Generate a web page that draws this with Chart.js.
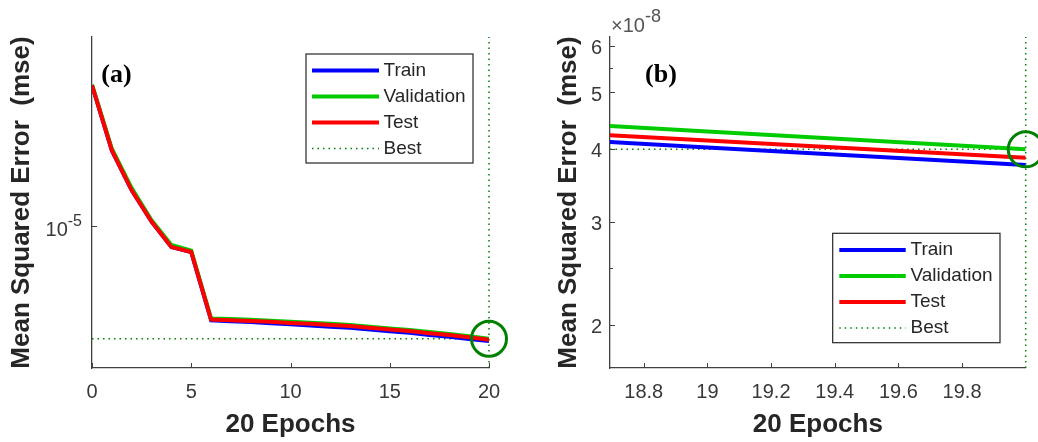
<!DOCTYPE html>
<html>
<head>
<meta charset="utf-8">
<script src="https://cdn.jsdelivr.net/npm/chart.js@4.4.1/dist/chart.umd.min.js"></script>
<style>
  html, body { margin: 0; padding: 0; background: #fff; }
  #wrap { position: relative; width: 1038px; height: 442px; overflow: hidden; }
  .panel { position: absolute; top: 0; height: 442px; }
</style>
</head>
<body>
<div id="wrap">
  <div class="panel" style="left:0;width:520px"><canvas id="chartA" width="520" height="442"></canvas></div>
  <div class="panel" style="left:520px;width:518px"><canvas id="chartB" width="518" height="442"></canvas></div>
</div>
<script>
// panel (a): whole training run, 20 epochs
const epochsA = [0, 1, 2, 3, 4, 5, 6, 7, 8, 9, 10, 11, 12, 13, 14, 15, 16, 17, 18, 19, 20];
const trainA = [2.66e-5, 1.69e-5, 1.28e-5, 1.03e-5, 8.63e-6, 8.33e-6, 5.18e-6, 5.15e-6, 5.12e-6, 5.08e-6, 5.04e-6,
                5.00e-6, 4.96e-6, 4.92e-6, 4.86e-6, 4.80e-6, 4.75e-6, 4.68e-6, 4.62e-6, 4.55e-6, 4.49e-6];
const valA = [2.67e-5, 1.71e-5, 1.30e-5, 1.04e-5, 8.75e-6, 8.42e-6, 5.25e-6, 5.23e-6, 5.20e-6, 5.17e-6, 5.13e-6,
              5.10e-6, 5.06e-6, 5.02e-6, 4.96e-6, 4.90e-6, 4.85e-6, 4.78e-6, 4.71e-6, 4.64e-6, 4.56e-6];
const testA = [2.66e-5, 1.69e-5, 1.28e-5, 1.03e-5, 8.64e-6, 8.34e-6, 5.21e-6, 5.19e-6, 5.16e-6, 5.13e-6, 5.09e-6,
               5.06e-6, 5.02e-6, 4.98e-6, 4.92e-6, 4.86e-6, 4.81e-6, 4.74e-6, 4.68e-6, 4.61e-6, 4.53e-6];
const bestEpochA = 20;
const bestValA = 4.56e-6;
const xRangeA = [0, 20];
const yRangeA = [3.72e-6, 3.72e-5];
const xTicksA = [0, 5, 10, 15, 20];
const xTickLabelsA = ['0', '5', '10', '15', '20'];
const yTicksA = [1e-5];
const yTickBaseA = '10';
const yTickExpA = '-5';

// panel (b): zoom on the last epochs
const epochsB = [18, 19, 20];
const trainB = [4.31e-8, 4.02e-8, 3.75e-8];
const valB = [4.59e-8, 4.28e-8, 3.99e-8];
const testB = [4.42e-8, 4.13e-8, 3.86e-8];
const bestEpochB = 20;
const bestValB = 3.99e-8;
const xRangeB = [18.694, 20];
const yRangeB = [1.687e-8, 6.21e-8];
const xTicksB = [18.8, 19, 19.2, 19.4, 19.6, 19.8];
const xTickLabelsB = ['18.8', '19', '19.2', '19.4', '19.6', '19.8'];
const yTicksB = [2e-8, 3e-8, 4e-8, 5e-8, 6e-8];
const yTickLabelsB = ['2', '3', '4', '5', '6'];
const yMinorB = [2.5e-8, 5.5e-8];
const yMultBase = '\u00d710';
const yMultExp = '-8';

const SANS = '"Liberation Sans", Arial, Helvetica, sans-serif';
const SERIF = '"Liberation Serif", "Times New Roman", serif';
const AXIS = '#404040';
const TICK_TEXT = '#383838';
const TITLE_TEXT = '#262626';
const BLUE = '#0000ff';
const GREEN = '#00cc00';
const RED = '#ff0000';
const BEST = '#008000';

// inward tick marks, power-of-ten labels, panel letters and the boxed legend
const decorPlugin = {
  id: 'decor',
  afterDraw(chart, _args, o) {
    const { ctx, chartArea: a } = chart;
    const xs = chart.scales.x, ys = chart.scales.y;
    ctx.save();

    ctx.strokeStyle = AXIS;
    ctx.lineWidth = 1;
    ctx.beginPath();
    o.xTicks.forEach(v => {
      const px = Math.round(xs.getPixelForValue(v)) + 0.5;
      ctx.moveTo(px, a.bottom);
      ctx.lineTo(px, a.bottom - 5);
    });
    o.yTicks.forEach(v => {
      const py = Math.round(ys.getPixelForValue(v)) + 0.5;
      ctx.moveTo(a.left, py);
      ctx.lineTo(a.left + 5, py);
    });
    (o.yMinor || []).forEach(v => {
      const py = Math.round(ys.getPixelForValue(v)) + 0.5;
      ctx.moveTo(a.left, py);
      ctx.lineTo(a.left + 3, py);
    });
    ctx.stroke();

    ctx.fillStyle = TICK_TEXT;
    ctx.textBaseline = 'middle';

    // 10^-5 style label on the log axis
    if (o.power) {
      const py = ys.getPixelForValue(o.power.value);
      const right = a.left - 10;
      ctx.textAlign = 'right';
      ctx.font = '16px ' + SANS;
      const w = ctx.measureText(o.power.exp).width;
      ctx.fillText(o.power.exp, right, py - 4);
      ctx.font = '20px ' + SANS;
      ctx.fillText(o.power.base, right - w, py + 4.5);
    }

    // x10^-8 multiplier above the axis
    if (o.mult) {
      ctx.textAlign = 'left';
      ctx.font = '20px ' + SANS;
      ctx.fillStyle = '#555';
      ctx.fillText(o.mult.base, a.left + 1, 26);
      const w = ctx.measureText(o.mult.base).width;
      ctx.font = '18px ' + SANS;
      ctx.fillText(o.mult.exp, a.left + 1 + w, 17);
    }

    // (a) / (b)
    ctx.fillStyle = '#000';
    ctx.textAlign = 'center';
    ctx.font = 'bold 26px ' + SERIF;
    ctx.fillText(o.panel.text, o.panel.x, o.panel.y);

    // legend
    const L = o.legend;
    ctx.fillStyle = '#fff';
    ctx.fillRect(L.x, L.y, L.w, L.h);
    ctx.strokeStyle = '#262626';
    ctx.lineWidth = 1.2;
    ctx.strokeRect(L.x, L.y, L.w, L.h);
    chart.data.datasets.filter(d => d.label).forEach((d, i) => {
      const ry = L.row0 + i * L.rowGap;
      ctx.strokeStyle = d.borderColor;
      ctx.lineWidth = d.borderDash ? 1.5 : 4;
      ctx.setLineDash(d.borderDash || []);
      ctx.beginPath();
      ctx.moveTo(L.lineX0, ry);
      ctx.lineTo(L.lineX1, ry);
      ctx.stroke();
      ctx.setLineDash([]);
      ctx.fillStyle = TITLE_TEXT;
      ctx.textAlign = 'left';
      ctx.font = '19px ' + SANS;
      ctx.fillText(d.label, L.textX, ry);
    });

    ctx.restore();
  }
};

function makeConfig(p) {
  const pts = (xs, ys) => xs.map((x, i) => ({ x, y: ys[i] }));
  const series = (label, color, data, order) => ({
    label, data, order,
    borderColor: color, backgroundColor: color,
    borderWidth: 4, pointRadius: 0, tension: 0, clip: 0
  });
  const dotted = { borderColor: BEST, borderWidth: 1.5, borderDash: [1.5, 4], pointRadius: 0, order: 5, clip: false };

  return {
    type: 'line',
    data: {
      datasets: [
        series('Train', BLUE, pts(p.epochs, p.train), 3),
        series('Validation', GREEN, pts(p.epochs, p.val), 2),
        series('Test', RED, pts(p.epochs, p.test), 1),
        Object.assign({ label: 'Best', data: [{ x: p.xRange[0], y: p.best }, { x: p.bestEpoch, y: p.best }] }, dotted),
        Object.assign({ label: '', data: [{ x: p.bestEpoch, y: p.yRange[0] }, { x: p.bestEpoch, y: p.yRange[1] }] }, dotted),
        {
          label: '', data: [{ x: p.bestEpoch, y: p.best }], showLine: false, order: 0, clip: false,
          pointRadius: 17.5, pointBorderWidth: 3, pointBorderColor: BEST, pointBackgroundColor: 'rgba(0,0,0,0)'
        }
      ]
    },
    options: {
      responsive: false,
      animation: false,
      devicePixelRatio: 1,
      events: [],
      layout: { autoPadding: false, padding: { left: p.padLeft, right: p.padRight, top: 37, bottom: 0 } },
      plugins: {
        legend: { display: false },
        tooltip: { enabled: false },
        decor: p.decor
      },
      scales: {
        x: {
          type: 'linear',
          min: p.xRange[0], max: p.xRange[1],
          grid: { display: false, drawTicks: false },
          border: { display: true, color: AXIS, width: 1.3 },
          afterBuildTicks: s => { s.ticks = p.xTicks.map(v => ({ value: v })); },
          afterFit: s => { s.height = 74; s.paddingLeft = 0; s.paddingRight = 0; },
          ticks: {
            color: TICK_TEXT, font: { family: SANS, size: 20 }, padding: 12,
            maxRotation: 0, autoSkip: false,
            callback: (v, i) => p.xTickLabels[i]
          },
          title: {
            display: true, text: '20 Epochs', color: TITLE_TEXT,
            font: { family: SANS, size: 26, weight: 'bold' }, padding: { top: 0, bottom: 2 }
          }
        },
        y: {
          type: 'logarithmic',
          min: p.yRange[0], max: p.yRange[1],
          grid: { display: false, drawTicks: false },
          border: { display: true, color: AXIS, width: 1.3 },
          afterBuildTicks: s => { s.ticks = p.yTicks.map(v => ({ value: v })); },
          afterFit: s => { s.width = p.yWidth; s.paddingTop = 0; s.paddingBottom = 0; },
          ticks: {
            display: !!p.yTickLabels,
            color: TICK_TEXT, font: { family: SANS, size: 20 }, padding: 8,
            labelOffset: 3, autoSkip: false,
            callback: (v, i) => (p.yTickLabels ? p.yTickLabels[i] : '')
          },
          title: {
            display: true, text: 'Mean Squared Error  (mse)', color: TITLE_TEXT,
            font: { family: SANS, size: 26, weight: 'bold' }, padding: { top: p.yTitlePad, bottom: 0 }
          }
        }
      }
    },
    plugins: [decorPlugin]
  };
}

new Chart(document.getElementById('chartA'), makeConfig({
  epochs: epochsA, train: trainA, val: valA, test: testA,
  bestEpoch: bestEpochA, best: bestValA,
  xRange: xRangeA, yRange: yRangeA,
  xTicks: xTicksA, xTickLabels: xTickLabelsA,
  yTicks: yTicksA, yTickLabels: null,
  padLeft: 0, padRight: 31, yWidth: 92, yTitlePad: 6,
  decor: {
    xTicks: xTicksA, yTicks: yTicksA,
    power: { value: yTicksA[0], base: yTickBaseA, exp: yTickExpA },
    panel: { text: '(a)', x: 116.5, y: 75 },
    legend: { x: 306, y: 54, w: 167, h: 109, row0: 70.5, rowGap: 26, lineX0: 312, lineX1: 379, textX: 383.5 }
  }
}));

new Chart(document.getElementById('chartB'), makeConfig({
  epochs: epochsB, train: trainB, val: valB, test: testB,
  bestEpoch: bestEpochB, best: bestValB,
  xRange: xRangeB, yRange: yRangeB,
  xTicks: xTicksB, xTickLabels: xTickLabelsB,
  yTicks: yTicksB, yTickLabels: yTickLabelsB,
  padLeft: 26, padRight: 12.3, yWidth: 64, yTitlePad: 7.6,
  decor: {
    xTicks: xTicksB, yTicks: yTicksB, yMinor: yMinorB,
    mult: { base: yMultBase, exp: yMultExp },
    panel: { text: '(b)', x: 141, y: 75 },
    legend: { x: 312.7, y: 233.3, w: 167.3, h: 109.4, row0: 250, rowGap: 26, lineX0: 319.3, lineX1: 385.7, textX: 390.5 }
  }
}));
</script>
</body>
</html>
